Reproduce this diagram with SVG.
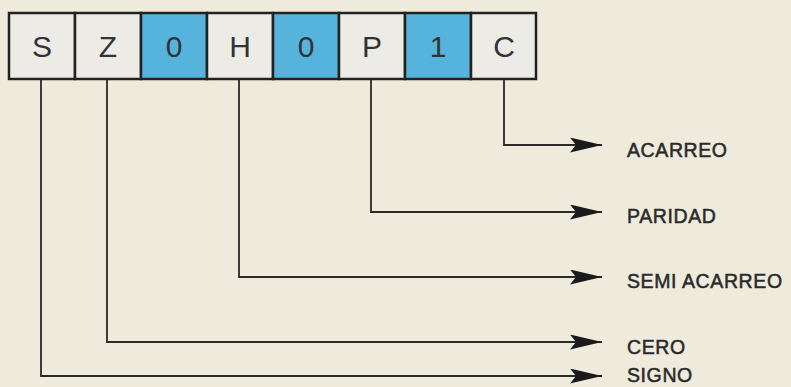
<svg xmlns="http://www.w3.org/2000/svg" width="791" height="387" viewBox="0 0 791 387">
<defs>
<style>
.cell{stroke:#222;stroke-width:2.5}
.light{fill:#ecebe6}
.blue{fill:#55b3dc}
.bit{font-family:"Liberation Sans",Arial,sans-serif;font-size:30px;fill:#333;text-anchor:middle}
.lbl{font-family:"Liberation Sans",Arial,sans-serif;font-size:19.5px;fill:#2a2a2a;stroke:#2a2a2a;stroke-width:0.5;letter-spacing:0.6px}
.wire{fill:none;stroke:#2a2a2a;stroke-width:1.8}
</style>
<marker id="ah" viewBox="0 0 32 15" refX="32" refY="7.5" markerWidth="32" markerHeight="15" markerUnits="userSpaceOnUse" orient="auto">
<path d="M0,0 L32,7.5 L0,15 L6,7.5 Z" fill="#1a1a1a"/>
</marker>
</defs>
<rect width="791" height="387" fill="#eeeadc"/>
<g id="register">
<g id="bit-S"><rect class="cell light" x="9" y="13" width="66" height="66"/><text class="bit" x="42" y="57">S</text></g>
<g id="bit-Z"><rect class="cell light" x="75" y="13" width="66" height="66"/><text class="bit" x="108" y="57">Z</text></g>
<g id="bit-0a"><rect class="cell blue" x="141" y="13" width="66" height="66"/><text class="bit" x="174" y="57">0</text></g>
<g id="bit-H"><rect class="cell light" x="207" y="13" width="66" height="66"/><text class="bit" x="240" y="57">H</text></g>
<g id="bit-0b"><rect class="cell blue" x="273" y="13" width="66" height="66"/><text class="bit" x="306" y="57">0</text></g>
<g id="bit-P"><rect class="cell light" x="339" y="13" width="66" height="66"/><text class="bit" x="372" y="57">P</text></g>
<g id="bit-1"><rect class="cell blue" x="405" y="13" width="66" height="66"/><text class="bit" x="438" y="57">1</text></g>
<g id="bit-C"><rect class="cell light" x="471" y="13" width="65" height="66"/><text class="bit" x="504" y="57">C</text></g>
</g>
<g id="connectors">
<path class="wire" d="M504,80 V145 H602" marker-end="url(#ah)"/>
<path class="wire" d="M371,80 V212 H602" marker-end="url(#ah)"/>
<path class="wire" d="M239,80 V277 H602" marker-end="url(#ah)"/>
<path class="wire" d="M107,80 V342 H602" marker-end="url(#ah)"/>
<path class="wire" d="M41,80 V376 H602" marker-end="url(#ah)"/>
</g>
<g id="labels">
<text class="lbl" x="627" y="157">ACARREO</text>
<text class="lbl" x="627" y="223">PARIDAD</text>
<text class="lbl" x="627" y="288">SEMI ACARREO</text>
<text class="lbl" x="627" y="354">CERO</text>
<text class="lbl" x="627" y="382">SIGNO</text>
</g>
</svg>
